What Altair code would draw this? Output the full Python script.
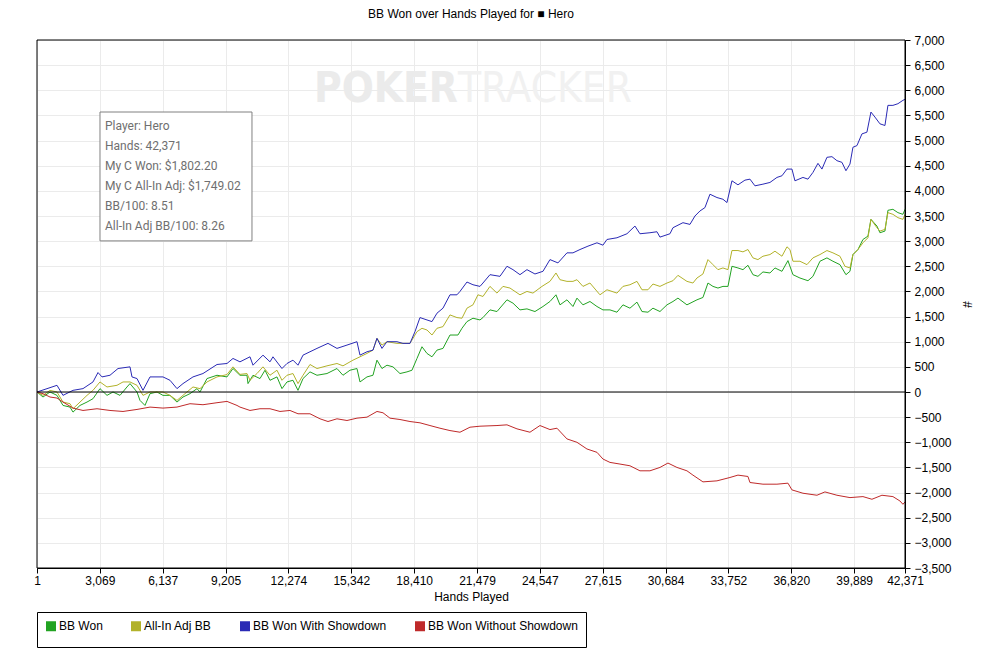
import altair as alt
import pandas as pd

# ---------------- data ----------------
SERIES = ["BB Won", "All-In Adj BB", "BB Won With Showdown", "BB Won Without Showdown"]
LINE_COLORS = ["#22a322", "#b2b22a", "#2a2ab5", "#bf2a2a"]

X_TICKS = [1, 3069, 6137, 9205, 12274, 15342, 18410, 21479, 24547, 27615,
           30684, 33752, 36820, 39889, 42371]
Y_TICKS = list(range(-3500, 7001, 500))

won_hands = [1, 294, 636, 977, 1270, 1612, 1758, 2100, 2442, 2734,
             3076, 3418, 3711, 4052, 4394, 4540, 4882, 5028, 5272, 5517,
             5858, 6151, 6493, 6834, 7127, 7469, 7811, 7957, 8299, 8787,
             9275, 9568, 9909, 10251, 10300, 10544, 10886, 11130, 11374, 11715,
             11959, 12204, 12496, 12741, 12986, 13326, 13668, 14156, 14644, 14937,
             15279, 15620, 15767, 16108, 16401, 16596, 16840, 17084, 17377, 17719,
             18061, 18305, 18549, 18793, 19037, 19281, 19525, 19818, 20160, 20550,
             20745, 20989, 21282, 21624, 21770, 22112, 22454, 22942, 23235, 23577,
             23918, 24308, 24699, 25040, 25333, 25529, 25870, 26163, 26358, 26651,
             26993, 27335, 27627, 27969, 28311, 28604, 28945, 29287, 29531, 29824,
             30068, 30410, 30752, 31045, 31288, 31727, 32216, 32508, 32753, 32997,
             33241, 33485, 33729, 33924, 34217, 34461, 34705, 34949, 35193, 35437,
             35779, 36023, 36365, 36657, 36901, 37243, 37634, 37878, 38219, 38561,
             38854, 39195, 39488, 39684, 39830, 40074, 40318, 40562, 40709, 41001,
             41148, 41392, 41538, 41782, 42026, 42270, 42371]
won_bb = [0, -100, 0, -67, -267, -300, -400, -267, -200, -133,
          67, -67, 0, -67, 100, 167, 0, -167, -267, -33,
          0, -67, -67, -200, -100, -33, 67, 0, 267, 333,
          300, 467, 333, 333, 167, 333, 267, 433, 233, 300,
          67, 200, 233, 33, 267, 400, 333, 367, 467, 333,
          433, 467, 200, 300, 333, 633, 467, 533, 500, 367,
          400, 433, 667, 900, 767, 700, 833, 867, 1133, 1133,
          1267, 1400, 1467, 1433, 1480, 1633, 1600, 1833, 1767, 1633,
          1653, 1600, 1700, 1800, 1933, 1733, 1833, 1700, 1867, 1733,
          1800, 1700, 1633, 1633, 1587, 1733, 1667, 1787, 1600, 1587,
          1667, 1600, 1733, 1800, 1867, 1733, 1833, 1880, 2167, 2100,
          2067, 2100, 2100, 2500, 2467, 2433, 2520, 2333, 2300, 2387,
          2367, 2467, 2400, 2613, 2333, 2267, 2213, 2300, 2600, 2667,
          2600, 2533, 2333, 2400, 2733, 2833, 3033, 3100, 3433, 3300,
          3167, 3200, 3613, 3633, 3567, 3533, 3633]

adj_hands = [1, 294, 636, 977, 1270, 1612, 1758, 2100, 2442, 2734,
             3076, 3418, 3906, 4199, 4540, 4882, 5175, 5517, 6151, 6493,
             6834, 7127, 7615, 7957, 8299, 8787, 9275, 9568, 9909, 10251,
             10398, 10739, 11032, 11374, 11715, 11959, 12204, 12496, 12741, 12986,
             13326, 13668, 14156, 14644, 14937, 15425, 15767, 16108, 16401, 16596,
             16840, 17084, 17573, 17865, 18207, 18549, 18793, 19037, 19281, 19525,
             19818, 20160, 20501, 20745, 20989, 21282, 21526, 21770, 22112, 22454,
             22746, 23088, 23577, 23918, 24211, 24650, 25040, 25333, 25529, 25870,
             26163, 26358, 26651, 26993, 27481, 27823, 28311, 28604, 28945, 29287,
             29531, 29824, 30068, 30410, 30752, 31045, 31288, 31727, 32020, 32216,
             32508, 32753, 32997, 33241, 33485, 33729, 33924, 34217, 34461, 34705,
             34949, 35193, 35437, 35779, 36023, 36365, 36609, 36755, 36901, 37243,
             37585, 37878, 38219, 38561, 38854, 39195, 39440, 39684, 39830, 40074,
             40318, 40562, 40709, 41001, 41148, 41392, 41538, 41782, 42026, 42270,
             42371]
adj_bb = [0, -67, 33, 0, -200, -233, -333, -200, -67, 33,
          200, 100, 133, 200, 200, 133, -67, 0, 0, -67,
          -167, -67, 100, 67, 200, 300, 347, 500, 350, 367,
          233, 367, 500, 333, 433, 233, 333, 367, 167, 333,
          547, 467, 520, 567, 520, 633, 700, 767, 833, 1067,
          933, 1000, 967, 967, 967, 1200, 1267, 1233, 1133, 1267,
          1300, 1533, 1480, 1467, 1667, 1733, 1933, 1900, 2100, 1967,
          2100, 2067, 1933, 2000, 1967, 2100, 2200, 2367, 2233, 2200,
          2200, 2233, 2100, 2167, 1933, 2033, 1967, 2100, 2133, 2200,
          2033, 2033, 2147, 2100, 2167, 2213, 2320, 2200, 2167, 2267,
          2347, 2633, 2533, 2433, 2467, 2433, 2813, 2813, 2787, 2833,
          2667, 2633, 2700, 2733, 2800, 2700, 2887, 2833, 2600, 2600,
          2533, 2667, 2733, 2813, 2767, 2700, 2500, 2467, 2733, 2833,
          2967, 3067, 3433, 3267, 3200, 3233, 3567, 3533, 3467, 3433,
          3533]

sd_hands = [1, 977, 1270, 1758, 2246, 2734, 2978, 3174, 3564, 3955,
            4540, 4638, 4882, 5175, 5517, 6151, 6493, 6834, 7127, 7615,
            8103, 8787, 9275, 9568, 9909, 10398, 10544, 11032, 11374, 11520,
            11959, 12204, 12496, 12741, 12986, 13326, 13668, 14205, 14644, 15132,
            15620, 15767, 16108, 16401, 16596, 16840, 17084, 17573, 17865, 18207,
            18451, 18695, 19037, 19281, 19525, 19818, 20160, 20501, 20648, 20989,
            21282, 21624, 21770, 22112, 22600, 22942, 23235, 23577, 23918, 24308,
            24699, 25040, 25431, 25870, 26163, 26505, 26895, 27335, 27627, 27823,
            28311, 28799, 29189, 29433, 29922, 30263, 30410, 30898, 31045, 31532,
            31874, 32118, 32362, 32606, 32850, 33192, 33485, 33680, 33924, 34217,
            34558, 34803, 35047, 35437, 35779, 36120, 36365, 36609, 36853, 36999,
            37390, 37634, 37878, 38122, 38317, 38561, 38805, 39049, 39293, 39488,
            39684, 39830, 40025, 40269, 40513, 40709, 40904, 41148, 41392, 41538,
            41782, 42026, 42270, 42371]
sd_bb = [0, 133, -67, 33, 67, 200, 387, 300, 333, 467,
         500, 300, 267, 33, 300, 300, 233, 67, 167, 300,
         367, 547, 567, 667, 600, 700, 533, 733, 600, 700,
         467, 567, 633, 533, 733, 800, 867, 967, 867, 933,
         1000, 733, 800, 833, 1067, 867, 1000, 1000, 967, 967,
         1200, 1480, 1433, 1400, 1567, 1667, 1933, 1933, 2000, 2187,
         2133, 2100, 2167, 2333, 2300, 2500, 2433, 2333, 2433, 2347,
         2400, 2633, 2567, 2767, 2767, 2833, 2900, 2967, 2920, 3033,
         3067, 3147, 3300, 3147, 3167, 3187, 3080, 3147, 3267, 3367,
         3333, 3500, 3600, 3667, 3933, 3867, 3833, 3767, 4200, 4120,
         4213, 4233, 4100, 4133, 4167, 4267, 4300, 4433, 4433, 4200,
         4267, 4233, 4367, 4547, 4433, 4667, 4680, 4600, 4567, 4400,
         4533, 4867, 4900, 5133, 5167, 5567, 5467, 5333, 5300, 5700,
         5700, 5733, 5800, 5820]

nsd_hands = [1, 294, 636, 977, 1270, 1758, 2246, 2930, 3564, 4199,
             4882, 5517, 6151, 6834, 7469, 8103, 8787, 9275, 9763, 9909,
             10398, 10886, 11374, 11862, 12350, 12741, 13326, 13815, 14205, 14644,
             15132, 15620, 16108, 16596, 16889, 17230, 17719, 18207, 18695, 19183,
             19671, 20160, 20648, 21136, 21624, 22454, 22942, 23430, 24064, 24552,
             25040, 25382, 25870, 26358, 26846, 27335, 27627, 27969, 28457, 28945,
             29433, 29922, 30410, 30800, 31239, 31727, 32020, 32508, 33192, 33826,
             34217, 34705, 34803, 35437, 36120, 36657, 36853, 37390, 38073, 38463,
             39049, 39684, 40318, 40757, 41246, 41782, 42124, 42270, 42371]
nsd_bb = [0, -33, -100, -120, -200, -320, -367, -333, -367, -387,
          -347, -300, -320, -300, -233, -253, -213, -187, -267, -300,
          -367, -333, -333, -387, -367, -433, -433, -533, -587, -533,
          -567, -520, -500, -387, -413, -520, -547, -587, -613, -667,
          -720, -767, -800, -700, -680, -667, -653, -733, -800, -667,
          -747, -720, -933, -1000, -1133, -1200, -1333, -1400, -1433, -1467,
          -1567, -1567, -1500, -1413, -1500, -1567, -1653, -1787, -1767, -1700,
          -1653, -1680, -1800, -1833, -1833, -1813, -1947, -2013, -2053, -1987,
          -2053, -2100, -2080, -2133, -2053, -2080, -2167, -2233, -2187]

TIP_LINES = ["Player: Hero", "Hands: 42,371", "My C Won: $1,802.20",
             "My C All-In Adj: $1,749.02", "BB/100: 8.51", "All-In Adj BB/100: 8.26"]

# ---------------- build table ----------------
rows = []
for name, hs, vs in [(SERIES[0], won_hands, won_bb), (SERIES[1], adj_hands, adj_bb),
                     (SERIES[2], sd_hands, sd_bb), (SERIES[3], nsd_hands, nsd_bb)]:
    for h, v in zip(hs, vs):
        rows.append({"series": name, "hands": h, "bb": v})
df = pd.DataFrame(rows)

FONT = "Liberation Sans"
xscale = alt.Scale(domain=[1, 42371], nice=False, zero=False)
yscale = alt.Scale(domain=[-3500, 7000], nice=False, zero=False)

x_axis = alt.Axis(
    values=X_TICKS, format=",d", title="Hands Played", labelFont=FONT, labelFontSize=12,
    labelColor="black", titleFont=FONT, titleFontSize=12, titleFontWeight="normal",
    titleColor="black", titlePadding=5, tickSize=5, tickColor="black", domainColor="black",
    labelPadding=2, labelOverlap=False, labelFlush=False, grid=True, gridColor="#ebebeb")
y_axis = alt.Axis(
    orient="right", values=Y_TICKS, format=",d", title="#", labelFont=FONT, labelFontSize=12,
    labelColor="black", titleFont=FONT, titleFontSize=12, titleFontWeight="normal",
    titleColor="black", titleAngle=90, titlePadding=8, tickSize=5, tickColor="black",
    domainColor="black", labelPadding=4, labelAlign="left", labelOverlap=False,
    labelFlush=False, grid=True, gridColor="#ebebeb")

X = alt.X("hands:Q", scale=xscale, axis=x_axis)
Y = alt.Y("bb:Q", scale=yscale, axis=y_axis)

# legend: small square symbol with a thick stroke so it reads as a solid 10x10 box
legend = alt.Legend(title=None, orient="none", legendX=0, legendY=572,
                    direction="horizontal", strokeColor="black", fillColor="white",
                    padding=8, symbolType="square", symbolSize=25, symbolStrokeWidth=5,
                    labelFont=FONT, labelFontSize=12, labelColor="black",
                    labelOffset=2, columnPadding=20, cornerRadius=0)

lines = alt.Chart(df).mark_line(strokeWidth=1).encode(
    x=X, y=Y,
    color=alt.Color("series:N", scale=alt.Scale(domain=SERIES, range=LINE_COLORS), legend=legend),
)

zero = alt.Chart(pd.DataFrame({"bb": [0]})).mark_rule(color="black", strokeWidth=1).encode(y=Y)

# plot frame drawn over the edge gridlines
frame = alt.Chart(pd.DataFrame({"hands": [1], "hands2": [42371], "bb": [-3500], "bb2": [7000]})).mark_rect(
    fill=None, stroke="black", strokeWidth=1).encode(x=X, x2="hands2:Q", y=Y, y2="bb2:Q")

# watermark (anchored in data space)
wm = pd.DataFrame({"hands": [20550], "bb": [6020]})
wm_poker = alt.Chart(wm).mark_text(text="POKER", font="DejaVu Sans Condensed", fontWeight="bold",
                                   fontSize=42, color="#ebebeb", align="right", baseline="middle").encode(
    x=X, y=Y)
wm_tracker = alt.Chart(wm).mark_text(text="TRACKER", font="DejaVu Sans Condensed",
                                     fontSize=42, color="#f1f1f1", align="left", baseline="middle").encode(
    x=X, y=Y)

# info box (anchored in data space)
box = alt.Chart(pd.DataFrame({"hands": [3076], "hands2": [10495], "bb": [5568], "bb2": [3005]})).mark_rect(
    fill="white", stroke="#808080", strokeWidth=1).encode(x=X, x2="hands2:Q", y=Y, y2="bb2:Q")
tip = alt.Chart(pd.DataFrame({"hands": [3320], "bb": [5390]})).mark_text(
    text=TIP_LINES, font="Roboto", fontSize=12, color="#6f6f6f", align="left",
    baseline="top", lineHeight=20).encode(x=X, y=Y)

chart = alt.layer(lines, wm_poker, wm_tracker, zero, frame, box, tip).properties(
    width=868, height=528, background="white",
    title=alt.TitleParams(text="BB Won over Hands Played for \u25A0 Hero", font=FONT, fontSize=12,
                          fontWeight="normal", color="black", anchor="middle", baseline="bottom",
                          frame="group", offset=1),
    autosize=alt.AutoSizeParams(type="none"),
    padding={"left": 29, "top": 32, "right": 86, "bottom": 85},
).configure_view(stroke="black", strokeWidth=1)

chart.save("out.html", embed_options={"renderer": "svg", "actions": False})
